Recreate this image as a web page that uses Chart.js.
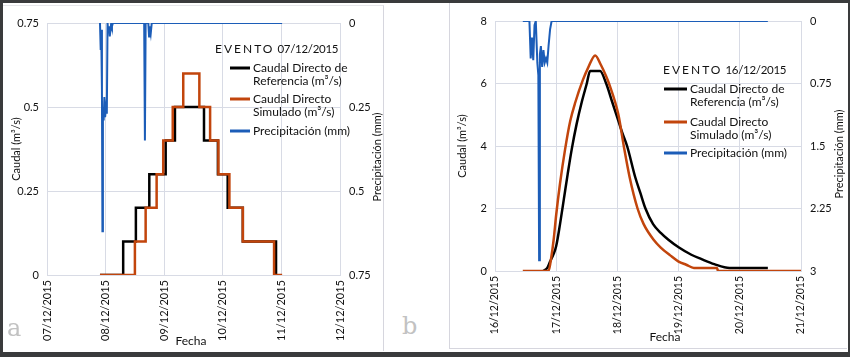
<!DOCTYPE html>
<html lang="es">
<head>
<meta charset="UTF-8">
<title>Eventos 07/12/2015 y 16/12/2015</title>
<script src="https://cdn.jsdelivr.net/npm/chart.js"></script>
<style>
  body { margin: 0; width: 850px; height: 357px; background: #3a3b3c; position: relative; overflow: hidden; }
  #sheet { position: absolute; left: 3px; top: 3px; width: 845px; height: 349px; background: #fff; }
  .panel { position: absolute; background: #fff; }
  #panelA { left: 3px; top: 5px; width: 380px; height: 345px; border-top: 1px solid #e6e6ea; border-right: 1px solid #d6d6de; }
  #panelB { left: 449px; top: 3px; width: 397px; height: 345px; border-left: 1px solid #d6d6de; border-bottom: 1px solid #d6d6de; }
  .tag { position: absolute; font-family: 'DejaVu Serif', serif; font-size: 24px; line-height: 1; color: #c2c2c2; }
</style>
</head>
<body>
<div id="sheet"></div>
<div class="panel" id="panelA"><canvas id="chartA" width="380" height="345"></canvas></div>
<div class="panel" id="panelB"><canvas id="chartB" width="397" height="345"></canvas></div>
<div class="tag" style="left:7px; top:316px;">a</div>
<div class="tag" style="left:402px; top:314px;">b</div>
<script>
// ---- panel a: evento 07/12/2015 (hours counted from 07/12/2015 00:00) ----
const aDayLabels = ['07/12/2015', '08/12/2015', '09/12/2015', '10/12/2015', '11/12/2015', '12/12/2015'];
const aRefHours = [21.7, 31.2, 36.4, 41.9, 48.6, 52.4, 64.3, 70.0, 74.0, 80.2, 93.8, 94.2];
const aRefValues = [0, 0.1, 0.2, 0.3, 0.4, 0.5, 0.4, 0.3, 0.2, 0.1, 0, 0];
const aSimHours = [21.7, 36.0, 40.4, 44.9, 47.6, 51.5, 55.8, 62.4, 66.8, 70.2, 74.7, 80.2, 93.0, 96.3];
const aSimValues = [0, 0.1, 0.2, 0.3, 0.4, 0.5, 0.6, 0.5, 0.4, 0.3, 0.2, 0.1, 0, 0];
const aRainHours = [21.7, 22.0, 22.2, 22.5, 22.7, 22.9, 23.2, 23.5, 23.8, 24.2, 24.5, 24.8, 25.1, 25.4, 25.7, 26.0, 26.3, 26.6, 27.0,
                    39.8, 40.1, 40.4, 41.5, 41.8, 42.1, 42.5, 42.9, 96.3];
const aRainValues = [0, 0.08, 0.02, 0.2, 0.62, 0.25, 0.29, 0.22, 0.28, 0.25, 0.27, 0, 0.03, 0.01, 0.04, 0.02, 0, 0.01, 0,
                     0, 0.35, 0, 0, 0.04, 0.01, 0.03, 0, 0];

// ---- panel b: evento 16/12/2015 (hours counted from 16/12/2015 00:00) ----
const bDayLabels = ['16/12/2015', '17/12/2015', '18/12/2015', '19/12/2015', '20/12/2015', '21/12/2015'];
const bRefHours = [19.0, 20.5, 21.6, 23.0, 24.0, 25.5, 27.0, 28.5, 30.1, 32.0, 34.0, 36.0, 37.3, 41.2, 43.6, 46.0, 48.0, 50.0,
                   51.8, 55.0, 57.0, 59.0, 62.0, 65.0, 68.0, 72.0, 77.0, 81.0, 86.0, 92.0, 107.0];
const bRefValues = [0, 0.1, 0.3, 0.55, 0.8, 1.5, 2.3, 3.1, 3.9, 4.7, 5.4, 6.0, 6.4, 6.4, 6.0, 5.4, 4.9, 4.4,
                    4.0, 3.0, 2.5, 2.0, 1.5, 1.22, 1.0, 0.76, 0.52, 0.38, 0.22, 0.1, 0.1];
const bSimHours = [10.9, 21.0, 22.0, 23.0, 24.0, 25.5, 27.5, 29.5, 31.5, 34.4, 36.5, 39.3, 41.5, 43.5, 44.7, 48.4, 50.5, 52.8,
                   55.9, 58.3, 62.2, 65.0, 68.7, 72.0, 75.0, 78.0, 87.0, 87.5, 120.0];
const bSimValues = [0, 0, 0.4, 1.0, 1.8, 2.8, 3.9, 4.8, 5.4, 6.1, 6.5, 6.9, 6.6, 6.25, 6.0, 5.0, 4.0, 3.0,
                    2.0, 1.5, 1.0, 0.75, 0.5, 0.3, 0.2, 0.1, 0.1, 0, 0];
const bRainHours = [10.9, 13.5, 14.0, 14.5, 15.0, 15.5, 16.0, 16.6, 17.0, 17.3, 17.6, 18.0, 18.5, 19.0, 19.5, 20.0, 20.5, 21.0, 21.6, 22.2, 107.0];
const bRainValues = [0, 0, 0.45, 0.2, 0.47, 0.05, 0, 0.5, 0.65, 2.87, 0.4, 0.3, 0.55, 0.35, 0.5, 0.45, 0.5, 0.3, 0.1, 0, 0];

const refLabel = ['Caudal Directo de', 'Referencia (m³/s)'];
const simLabel = ['Caudal Directo', 'Simulado (m³/s)'];
const rainLabel = ['Precipitación (mm)'];

const BLACK = '#000000';
const ORANGE = '#c2450c';
const BLUE = '#1c5db8';
const GRID = '#d8dbe5';

Chart.defaults.font.family = 'Lato, sans-serif';
Chart.defaults.font.size = 11;
Chart.defaults.color = '#111';

function points(xs, ys) {
    return xs.map((x, i) => ({ x: x, y: ys[i] }));
}

// plain number labels (0.75, 2.25, 3) instead of the rounded default
const plainNumber = v => String(Number(v.toFixed(4)));

// legend with the event title, plus the "Fecha" caption and the right axis
// title (which reads bottom-to-top in the original), drawn on the canvas
const eventLegend = {
    id: 'eventLegend',
    afterDatasetsDraw(chart, args, opts) {
        const ctx = chart.ctx;
        ctx.save();
        ctx.textBaseline = 'middle';
        ctx.textAlign = 'left';
        ctx.fillStyle = '#111';
        const [word, date] = opts.title.split(' ');
        ctx.font = '12px Lato, sans-serif';
        ctx.letterSpacing = '2px';
        ctx.fillText(word, opts.titleX, opts.titleY);
        const w = ctx.measureText(word).width;
        ctx.font = '11.5px Lato, sans-serif';
        ctx.letterSpacing = '-0.3px';
        ctx.fillText(date, opts.titleX + w + 3, opts.titleY);
        ctx.letterSpacing = '0px';
        ctx.font = '12px Lato, sans-serif';
        opts.rows.forEach((row, i) => {
            const y = opts.rowY[i];
            ctx.strokeStyle = row.color;
            ctx.lineWidth = 3;
            ctx.beginPath();
            ctx.moveTo(opts.lineX, y);
            ctx.lineTo(opts.lineX + opts.lineW, y);
            ctx.stroke();
            row.lines.forEach((t, j) => ctx.fillText(t, opts.lineX + opts.lineW + 3, y + j * 13.5));
        });
        ctx.textAlign = 'center';
        ctx.fillText('Fecha', opts.fechaX, opts.fechaY);
        ctx.font = '11px Lato, sans-serif';
        ctx.translate(opts.rainTitleX, opts.rainTitleY);
        ctx.rotate(-Math.PI / 2);
        ctx.fillText(rainLabel[0], 0, 0);
        ctx.restore();
    }
};

function makeChart(id, cfg) {
    const dayLabels = cfg.days;
    return new Chart(document.getElementById(id), {
        type: 'line',
        data: {
            datasets: [
                { label: rainLabel[0], data: points(cfg.rainH, cfg.rainV), yAxisID: 'y2',
                  borderColor: BLUE, borderWidth: 2, pointRadius: 0, order: 1 },
                { label: simLabel.join(' '), data: points(cfg.simH, cfg.simV), yAxisID: 'y',
                  borderColor: ORANGE, borderWidth: 2.5, pointRadius: 0, order: 2,
                  stepped: cfg.stepped ? 'before' : false, cubicInterpolationMode: 'monotone' },
                { label: refLabel.join(' '), data: points(cfg.refH, cfg.refV), yAxisID: 'y',
                  borderColor: BLACK, borderWidth: 2.5, pointRadius: 0, order: 3,
                  stepped: cfg.stepped ? 'before' : false, cubicInterpolationMode: 'monotone' }
            ]
        },
        options: {
            responsive: false,
            animation: false,
            layout: { padding: { top: cfg.padTop, left: 0, right: 0, bottom: 0 } },
            plugins: {
                legend: { display: false },
                tooltip: { enabled: false },
                eventLegend: cfg.legend
            },
            scales: {
                x: {
                    type: 'linear', min: 0, max: 120,
                    ticks: { stepSize: 24, maxRotation: 90, minRotation: 90, padding: 5,
                             font: { size: cfg.dateSize },
                             callback: v => dayLabels[v / 24] ?? '' },
                    grid: { color: GRID, drawTicks: false },
                    border: { color: GRID },
                    afterFit: s => { s.height = cfg.xHeight; }
                },
                y: {
                    position: 'left', min: 0, max: cfg.yMax,
                    ticks: { stepSize: cfg.yStep, padding: 8, callback: plainNumber },
                    grid: { color: GRID, drawTicks: false },
                    border: { color: GRID },
                    title: { display: true, text: 'Caudal (m³/s)', padding: { top: cfg.yTitlePad, bottom: 0 } },
                    afterFit: s => { s.width = cfg.yWidth; }
                },
                y2: {
                    position: 'right', reverse: true, min: 0, max: cfg.rMax,
                    ticks: { stepSize: cfg.rStep, padding: 9, callback: plainNumber },
                    grid: { drawOnChartArea: false, drawTicks: false },
                    border: { color: GRID },
                    afterFit: s => { s.width = cfg.rWidth; }
                }
            }
        },
        plugins: [eventLegend]
    });
}

makeChart('chartA', {
    days: aDayLabels, stepped: true, dateSize: 11,
    refH: aRefHours, refV: aRefValues, simH: aSimHours, simV: aSimValues, rainH: aRainHours, rainV: aRainValues,
    yMax: 0.75, yStep: 0.25, rMax: 0.75, rStep: 0.25,
    padTop: 17, xHeight: 76, yWidth: 44, rWidth: 43, yTitlePad: 7,
    legend: {
        title: 'EVENTO 07/12/2015', titleX: 212, titleY: 43,
        lineX: 227, lineW: 20, rowY: [62, 93, 125],
        rows: [{ color: BLACK, lines: refLabel }, { color: ORANGE, lines: simLabel }, { color: BLUE, lines: rainLabel }],
        fechaX: 188, fechaY: 335,
        rainTitleX: 374, rainTitleY: 151
    }
});

makeChart('chartB', {
    days: bDayLabels, stepped: false, dateSize: 10.5,
    refH: bRefHours, refV: bRefValues, simH: bSimHours, simV: bSimValues, rainH: bRainHours, rainV: bRainValues,
    yMax: 8, yStep: 2, rMax: 3, rStep: 0.75,
    padTop: 18, xHeight: 77, yWidth: 45, rWidth: 46, yTitlePad: 6,
    legend: {
        title: 'EVENTO 16/12/2015', titleX: 213, titleY: 67,
        lineX: 214, lineW: 23, rowY: [86, 119, 150],
        rows: [{ color: BLACK, lines: refLabel }, { color: ORANGE, lines: simLabel }, { color: BLUE, lines: rainLabel }],
        fechaX: 215, fechaY: 334,
        rainTitleX: 389, rainTitleY: 151
    }
});
</script>
</body>
</html>
